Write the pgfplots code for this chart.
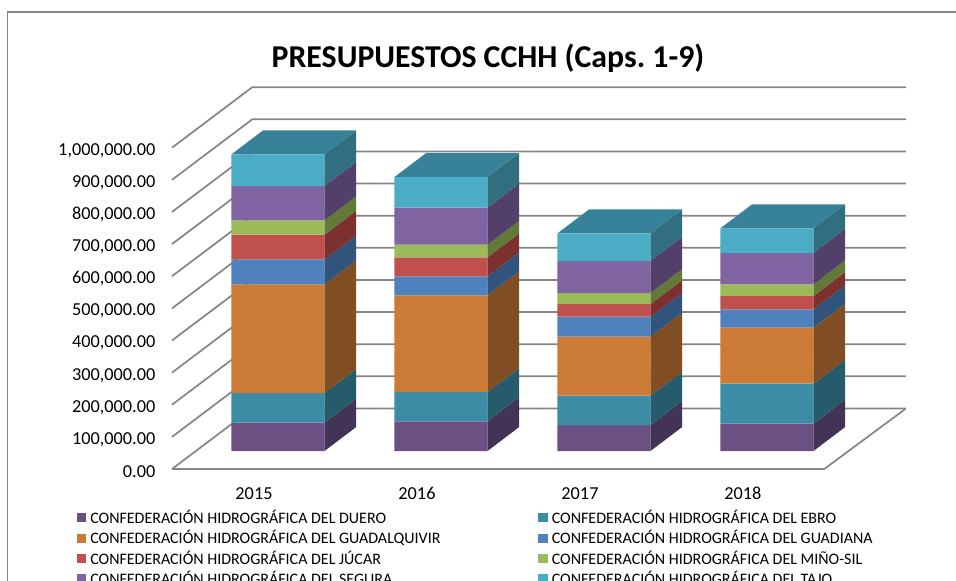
\documentclass[border=0pt]{standalone}
\usepackage{fontspec}
\setmainfont{Carlito}
\usepackage{pgfplots}
\usepackage{pgfplotstable}
\pgfplotsset{compat=1.18}

% front colours
\definecolor{fduero}{HTML}{6B5084}
\definecolor{febro}{HTML}{3D8CA5}
\definecolor{fguadalquivir}{HTML}{CB7B35}
\definecolor{fguadiana}{HTML}{4F81BD}
\definecolor{fjucar}{HTML}{C0504D}
\definecolor{fmino}{HTML}{9BBB59}
\definecolor{fsegura}{HTML}{8064A2}
\definecolor{ftajo}{HTML}{4BACC6}
% side colours
\definecolor{sduero}{HTML}{433355}
\definecolor{sebro}{HTML}{265B6B}
\definecolor{sguadalquivir}{HTML}{804E22}
\definecolor{sguadiana}{HTML}{31547D}
\definecolor{sjucar}{HTML}{7D312F}
\definecolor{smino}{HTML}{627937}
\definecolor{ssegura}{HTML}{523F6A}
\definecolor{stajo}{HTML}{316F80}
\definecolor{topface}{HTML}{388299}
\definecolor{wall}{HTML}{868686}

\pgfplotstableread{
year duero ebro guadalquivir guadiana jucar mino segura tajo
2015 88000 92400 338300 77800 76600 44800 106800 98700
2016 92400 91200 301000 59100 59100 39200 115200 95500
2017 80900 91200 183600 62200 39500 34200 99600 86200
2018 85000 124500 174300 57300 41400 36400 97400 76900
}\data

% bar half width and depth, in axis units
\def\halfbar{0.2853}
\def\depthx{0.1945}
\def\depthy{74700}

\newcommand{\bardepth}[1]{%
  \pgfplotstablegetelem{#1}{year}\of\data
  \edef\yr{\pgfplotsretval}%
  \pgfmathsetmacro\xa{\yr+\halfbar}%
  \pgfmathsetmacro\xb{\xa+\depthx}%
  \pgfmathsetmacro\xl{\yr-\halfbar}%
  \pgfmathsetmacro\xm{\xl+\depthx}%
  \def\hi{0}%
  \pgfplotsforeachungrouped \ser in {duero,ebro,guadalquivir,guadiana,jucar,mino,segura,tajo}{%
    \pgfplotstablegetelem{#1}{\ser}\of\data
    \edef\lo{\hi}%
    \edef\hi{\the\numexpr\lo+\pgfplotsretval\relax}%
    \edef\tmp{\noexpand\addplot[sharp plot,stack plots=false,forget plot,draw=none,fill=s\ser]
      coordinates {(\xa,\lo) (\xb,\the\numexpr\lo+\depthy\relax) (\xb,\the\numexpr\hi+\depthy\relax) (\xa,\hi)} -- cycle;}%
    \tmp
  }%
  \edef\tmp{\noexpand\addplot[sharp plot,stack plots=false,forget plot,draw=none,fill=topface]
    coordinates {(\xl,\hi) (\xm,\the\numexpr\hi+\depthy\relax) (\xb,\the\numexpr\hi+\depthy\relax) (\xa,\hi)} -- cycle;}%
  \tmp
}

\newcommand{\wallline}[1]{%
  \edef\tmp{\noexpand\addplot[sharp plot,stack plots=false,forget plot,wall,line width=1.3pt]
    coordinates {(2014.3497,\the\numexpr#1-56000\relax) (2014.8423,\the\numexpr#1+132300\relax) (2018.8528,\the\numexpr#1+132300\relax)};}%
  \tmp
}

\begin{document}
\frenchspacing
\begin{tikzpicture}
\path[use as bounding box] (0,0) rectangle (717pt,-435.75pt);
\draw[wall,line width=1pt] (5.8pt,-435.75pt) -- (5.8pt,-9pt) -- (717pt,-9pt);
\begin{axis}[
  at={(129pt,-338.25pt)},
  anchor=south west,
  scale only axis,
  width=489.2pt,
  height=240.98pt,
  xmin=2014.3497,
  xmax=2018.3515,
  ymin=0,
  ymax=1000000,
  clip=false,
  ybar stacked,
  reverse stacked plots=false,
  bar width=69.75pt,
  xtick={2015,2016,2017,2018},
  xticklabels={2015,2016,2017,2018},
  ytick={0,100000,200000,300000,400000,500000,600000,700000,800000,900000,1000000},
  scaled y ticks=false,
  axis line style={draw=none},
  major tick length=0pt,
  tick label style={font=\fontsize{13.7}{16}\selectfont},
  y tick label style={
    /pgf/number format/fixed,
    /pgf/number format/fixed zerofill,
    /pgf/number format/precision=2,
    /pgf/number format/1000 sep={,},
    /pgf/number format/assume math mode=true,
    yshift=-15.5pt,
    xshift=-9pt,
  },
  x tick label style={xshift=-18pt,yshift=-23.75pt},
  title={\textbf{PRESUPUESTOS CCHH (Caps. 1-9)}},
  title style={font=\fontsize{23.85}{26}\selectfont,at={(0.4844,1.198)},anchor=center},
  legend columns=2,
  legend cell align=left,
  legend style={
    at={(-71.5pt,-28.5pt)},
    anchor=north west,
    draw=none,
    fill=none,
    inner sep=0pt,
    row sep=-0.2pt,
    font=\fontsize{12}{15.4}\selectfont,
    /tikz/every odd column/.append style={column sep=1.2pt},
    /tikz/every even column/.append style={column sep=71.5pt},
  },
  legend image code/.code={\fill[#1] (0pt,-3.4pt) rectangle (6.8pt,3.4pt);},
]
  \wallline{1000000}
  \wallline{900000}
  \wallline{800000}
  \wallline{700000}
  \wallline{600000}
  \wallline{500000}
  \wallline{400000}
  \wallline{300000}
  \wallline{200000}
  \wallline{100000}
  \wallline{0}
  % floor edges
  \addplot[sharp plot,stack plots=false,forget plot,wall,line width=1.3pt]
    coordinates {(2014.3497,-56000) (2018.3515,-56000) (2018.8528,132300)};

  \bardepth{0}
  \bardepth{1}
  \bardepth{2}
  \bardepth{3}

  \addplot[fill=fduero,draw=none] table[x=year,y=duero]{\data};
  \addlegendentry{CONFEDERACIÓN HIDROGRÁFICA DEL DUERO}
  \addplot[fill=febro,draw=none] table[x=year,y=ebro]{\data};
  \addlegendentry{CONFEDERACIÓN HIDROGRÁFICA DEL EBRO}
  \addplot[fill=fguadalquivir,draw=none] table[x=year,y=guadalquivir]{\data};
  \addlegendentry{CONFEDERACIÓN HIDROGRÁFICA DEL GUADALQUIVIR}
  \addplot[fill=fguadiana,draw=none] table[x=year,y=guadiana]{\data};
  \addlegendentry{CONFEDERACIÓN HIDROGRÁFICA DEL GUADIANA}
  \addplot[fill=fjucar,draw=none] table[x=year,y=jucar]{\data};
  \addlegendentry{CONFEDERACIÓN HIDROGRÁFICA DEL JÚCAR}
  \addplot[fill=fmino,draw=none] table[x=year,y=mino]{\data};
  \addlegendentry{CONFEDERACIÓN HIDROGRÁFICA DEL MIÑO-SIL}
  \addplot[fill=fsegura,draw=none] table[x=year,y=segura]{\data};
  \addlegendentry{CONFEDERACIÓN HIDROGRÁFICA DEL SEGURA}
  \addplot[fill=ftajo,draw=none] table[x=year,y=tajo]{\data};
  \addlegendentry{CONFEDERACIÓN HIDROGRÁFICA DEL TAJO}
\end{axis}
\end{tikzpicture}
\end{document}
